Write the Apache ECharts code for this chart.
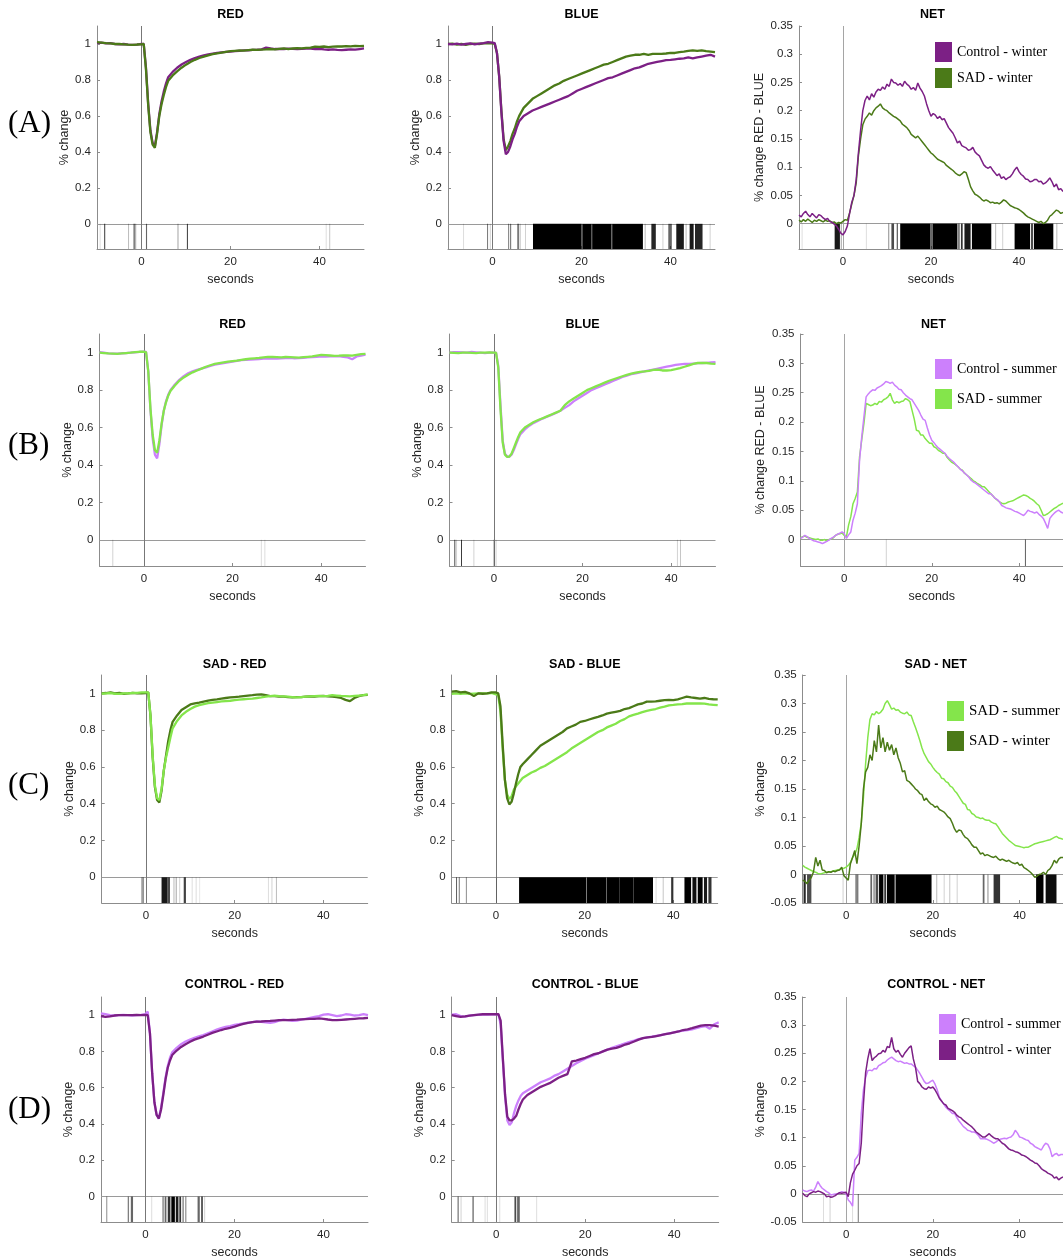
<!DOCTYPE html>
<html>
<head>
<meta charset="utf-8">
<title>Pupil response: RED / BLUE / NET</title>
<script src="https://cdn.jsdelivr.net/npm/echarts@6/dist/echarts.min.js"></script>
<style>
html, body { margin: 0; padding: 0; background: #fff; }
#chart { width: 1063px; height: 1260px; }
</style>
</head>
<body>
<div id="chart"></div>
<script>
// ---- time bases (seconds) ----
const tRB = [-10,-9,-8,-7,-6,-5,-4,-3,-2,-1,0,
  0.5,1,1.5,2,2.5,3,3.5,4,4.5,5,5.5,6,
  7,8,9,10,11,12,13,14,15,16,17,18,19,20,
  21,22,23,24,25,26,27,28,29,30,31,32,33,34,35,36,37,38,39,40,41,42,43,44,45,46,47,48,49,50];

const tNet = [-10,-9.5,-9,-8.5,-8,-7.5,-7,-6.5,-6,-5.5,
  -5,-4.5,-4,-3.5,-3,-2.5,-2,-1.5,-1,-0.5,
  0,0.5,1,1.5,2,2.5,3,3.5,4,4.5,
  5,5.5,6,6.5,7,7.5,8,8.5,9,9.5,
  10,10.5,11,11.5,12,12.5,13,13.5,14,14.5,
  15,15.5,16,16.5,17,17.5,18,18.5,19,19.5,
  20,20.5,21,21.5,22,22.5,23,23.5,24,24.5,
  25,25.5,26,26.5,27,27.5,28,28.5,29,29.5,
  30,30.5,31,31.5,32,32.5,33,33.5,34,34.5,
  35,35.5,36,36.5,37,37.5,38,38.5,39,39.5,
  40,40.5,41,41.5,42,42.5,43,43.5,44,44.5,
  45,45.5,46,46.5,47,47.5,48,48.5,49,49.5,
  50];

// ---- tick labels ----
const xTicks = [0, 20, 40];
const yTicksRB = [0, 0.2, 0.4, 0.6, 0.8, 1];
const yTicksNetAB = [0, 0.05, 0.1, 0.15, 0.2, 0.25, 0.3, 0.35];
const yTicksNetCD = [-0.05, 0, 0.05, 0.1, 0.15, 0.2, 0.25, 0.3, 0.35];

// ---- (A) winter: control vs SAD ----
const redA_ctlWin = [1.005,1.008,1.003,1.005,1.0,0.998,1.0,0.997,0.995,0.996,1.0,
  1.0,0.87,0.67,0.52,0.45,0.43,0.51,0.61,0.68,0.735,0.78,0.815,
  0.845,0.868,0.886,0.9,0.912,0.922,0.93,0.937,0.942,0.946,0.95,0.953,0.956,0.958,
  0.96,0.962,0.964,0.965,0.967,0.968,0.97,0.98,0.975,0.972,0.973,0.972,0.974,0.973,0.972,
  0.973,0.975,0.974,0.972,0.973,0.97,0.968,0.97,0.967,0.966,0.968,0.97,0.969,0.972,0.975];
const redA_sadWin = [1.01,1.008,1.005,1.003,1.0,1.0,0.998,0.996,0.995,0.997,0.998,
  1.0,0.86,0.66,0.51,0.44,0.423,0.5,0.6,0.665,0.715,0.76,0.795,
  0.825,0.848,0.868,0.885,0.9,0.912,0.922,0.93,0.937,0.943,0.948,0.952,0.956,0.96,
  0.962,0.964,0.963,0.966,0.968,0.967,0.969,0.97,0.972,0.97,0.973,0.975,0.972,0.975,0.977,
  0.976,0.978,0.98,0.985,0.984,0.986,0.983,0.985,0.987,0.986,0.988,0.987,0.99,0.988,0.99];
const blueA_ctlWin = [1.0,0.998,1.002,0.997,1.0,1.003,0.998,1.002,1.005,1.01,1.008,
  1.005,0.95,0.82,0.62,0.46,0.387,0.4,0.43,0.47,0.5,0.54,0.57,
  0.6,0.615,0.63,0.64,0.65,0.66,0.67,0.68,0.69,0.7,0.71,0.725,0.74,0.75,
  0.76,0.77,0.78,0.79,0.8,0.81,0.815,0.825,0.835,0.845,0.855,0.865,0.87,0.88,0.89,
  0.895,0.9,0.905,0.91,0.912,0.915,0.918,0.92,0.925,0.92,0.925,0.93,0.935,0.94,0.93];
const blueA_sadWin = [1.0,1.002,0.997,1.0,0.995,1.0,1.002,1.0,1.003,1.005,1.003,
  1.0,0.95,0.82,0.63,0.47,0.41,0.43,0.46,0.5,0.53,0.57,0.6,
  0.645,0.67,0.695,0.71,0.725,0.74,0.755,0.77,0.78,0.795,0.805,0.815,0.825,0.835,
  0.845,0.855,0.865,0.875,0.885,0.89,0.9,0.91,0.92,0.93,0.935,0.94,0.94,0.945,0.94,
  0.945,0.945,0.945,0.947,0.95,0.95,0.955,0.958,0.962,0.965,0.962,0.965,0.96,0.958,0.955];
const netA_ctlWin = [0.015,0.012,0.018,0.022,0.016,0.012,0.018,0.014,0.01,0.016,
  0.014,0.01,0.007,0.009,0.004,0.002,-0.001,-0.004,-0.01,-0.017,
  -0.02,-0.014,-0.004,0.018,0.038,0.05,0.078,0.125,0.165,0.2,
  0.218,0.226,0.219,0.23,0.224,0.233,0.238,0.236,0.242,0.238,
  0.247,0.243,0.256,0.25,0.249,0.245,0.248,0.243,0.252,0.247,
  0.244,0.238,0.241,0.236,0.249,0.24,0.234,0.226,0.212,0.2,
  0.19,0.195,0.192,0.186,0.19,0.184,0.186,0.178,0.17,0.165,
  0.16,0.152,0.143,0.146,0.138,0.136,0.134,0.13,0.131,0.135,
  0.127,0.123,0.12,0.112,0.104,0.1,0.098,0.101,0.095,0.09,
  0.085,0.088,0.08,0.083,0.078,0.081,0.083,0.088,0.095,0.1,
  0.092,0.087,0.084,0.079,0.078,0.074,0.075,0.078,0.078,0.074,
  0.075,0.07,0.072,0.076,0.081,0.074,0.065,0.07,0.06,0.062,
  0.057];
const netA_sadWin = [0.006,0.003,0.007,0.004,0.008,0.005,0.002,0.006,0.004,0.007,
  0.005,0.003,0.006,0.004,0.005,0.002,0.003,0.0,0.002,0.001,
  0.004,0.007,0.006,0.019,0.035,0.05,0.072,0.12,0.15,0.175,
  0.185,0.19,0.196,0.192,0.2,0.205,0.208,0.212,0.205,0.202,
  0.2,0.196,0.193,0.19,0.188,0.185,0.182,0.176,0.173,0.17,
  0.165,0.158,0.155,0.152,0.155,0.15,0.145,0.14,0.135,0.13,
  0.125,0.122,0.118,0.114,0.112,0.11,0.108,0.103,0.1,0.097,
  0.094,0.09,0.087,0.085,0.088,0.092,0.09,0.078,0.065,0.058,
  0.052,0.05,0.047,0.043,0.04,0.042,0.04,0.037,0.038,0.036,
  0.037,0.035,0.038,0.042,0.04,0.036,0.032,0.03,0.028,0.027,
  0.025,0.022,0.019,0.015,0.012,0.01,0.008,0.006,0.004,0.002,
  0.004,0.0,0.002,0.006,0.013,0.016,0.02,0.024,0.022,0.018,
  0.02];

// ---- (B) summer: control vs SAD ----
const redB_ctlSum = [1.003,1.0,0.997,0.995,0.995,0.997,0.998,1.0,1.002,1.004,1.006,
  1.004,0.9,0.69,0.54,0.455,0.435,0.51,0.61,0.69,0.74,0.775,0.8,
  0.83,0.855,0.875,0.89,0.9,0.908,0.915,0.922,0.93,0.936,0.94,0.944,0.948,0.952,
  0.956,0.96,0.962,0.963,0.965,0.966,0.968,0.97,0.969,0.968,0.97,0.971,0.972,0.97,0.971,
  0.973,0.975,0.976,0.978,0.98,0.979,0.981,0.98,0.982,0.978,0.975,0.965,0.98,0.985,0.99];
const redB_sadSum = [1.0,0.998,0.996,0.995,0.994,0.996,0.998,1.0,1.003,1.005,1.005,
  1.003,0.9,0.7,0.56,0.48,0.465,0.53,0.62,0.69,0.735,0.77,0.795,
  0.825,0.85,0.868,0.882,0.895,0.905,0.915,0.925,0.933,0.94,0.944,0.948,0.952,0.955,
  0.958,0.962,0.965,0.968,0.97,0.972,0.975,0.978,0.977,0.976,0.975,0.977,0.976,0.975,0.974,
  0.976,0.978,0.98,0.985,0.988,0.987,0.985,0.983,0.984,0.986,0.985,0.984,0.988,0.992,0.994];
const blueB_ctlSum = [1.0,1.003,1.003,1.002,1.0,1.004,1.002,1.0,0.998,1.0,1.0,
  1.0,0.93,0.72,0.53,0.46,0.445,0.444,0.455,0.48,0.51,0.54,0.565,
  0.59,0.61,0.625,0.637,0.648,0.658,0.668,0.678,0.69,0.705,0.72,0.74,0.755,0.77,
  0.785,0.8,0.81,0.82,0.83,0.84,0.85,0.86,0.87,0.878,0.885,0.89,0.895,0.9,0.905,
  0.91,0.915,0.92,0.925,0.93,0.935,0.938,0.94,0.94,0.942,0.944,0.945,0.946,0.948,0.95];
const blueB_sadSum = [1.0,0.999,0.998,1.0,1.0,0.999,0.998,1.0,1.0,1.001,1.0,
  1.0,0.92,0.7,0.52,0.455,0.443,0.445,0.46,0.49,0.52,0.55,0.575,
  0.6,0.615,0.63,0.64,0.65,0.66,0.67,0.68,0.69,0.72,0.74,0.755,0.77,0.785,
  0.8,0.81,0.82,0.83,0.84,0.85,0.858,0.866,0.874,0.882,0.888,0.893,0.898,0.9,0.903,
  0.908,0.91,0.905,0.905,0.907,0.912,0.918,0.925,0.932,0.94,0.945,0.945,0.945,0.942,0.94];
const netB_ctlSum = [0.002,0.004,0.007,0.005,0.002,0.0,-0.002,-0.003,-0.004,-0.005,
  -0.007,-0.005,-0.003,-0.001,0.002,0.004,0.007,0.009,0.011,0.013,
  0.01,0.002,0.008,0.013,0.033,0.045,0.061,0.135,0.175,0.209,
  0.243,0.248,0.252,0.255,0.254,0.258,0.26,0.262,0.265,0.269,
  0.268,0.266,0.268,0.263,0.26,0.256,0.255,0.25,0.246,0.243,
  0.24,0.238,0.232,0.226,0.22,0.212,0.205,0.203,0.19,0.178,
  0.169,0.165,0.16,0.156,0.153,0.15,0.147,0.142,0.138,0.135,
  0.132,0.128,0.124,0.12,0.117,0.113,0.11,0.106,0.101,0.098,
  0.096,0.093,0.09,0.087,0.084,0.081,0.078,0.078,0.074,0.07,
  0.068,0.064,0.058,0.056,0.054,0.053,0.052,0.05,0.048,0.047,
  0.045,0.043,0.041,0.045,0.05,0.048,0.047,0.045,0.047,0.043,
  0.04,0.036,0.028,0.019,0.036,0.041,0.045,0.048,0.05,0.047,
  0.045];
const netB_sadSum = [0.003,0.005,0.006,0.004,0.003,0.002,0.001,0.0,0.001,-0.001,
  -0.001,0.0,-0.002,0.0,0.001,0.003,0.007,0.009,0.01,0.011,
  0.007,0.005,0.025,0.039,0.061,0.07,0.081,0.141,0.17,0.198,
  0.232,0.23,0.228,0.229,0.232,0.23,0.235,0.234,0.238,0.24,
  0.243,0.249,0.238,0.232,0.235,0.233,0.235,0.236,0.24,0.238,
  0.235,0.22,0.205,0.186,0.185,0.178,0.178,0.172,0.168,0.164,
  0.164,0.158,0.156,0.152,0.15,0.147,0.147,0.14,0.136,0.132,
  0.13,0.127,0.124,0.12,0.118,0.113,0.11,0.107,0.104,0.1,
  0.098,0.095,0.093,0.09,0.09,0.086,0.082,0.078,0.074,0.07,
  0.067,0.064,0.062,0.061,0.062,0.064,0.065,0.066,0.068,0.07,
  0.072,0.074,0.076,0.075,0.073,0.07,0.068,0.065,0.061,0.058,
  0.05,0.041,0.042,0.044,0.047,0.05,0.053,0.055,0.058,0.06,
  0.062];

// ---- (C) SAD: summer vs winter ----
const redC_sadWin = [1.0,1.002,1.005,1.0,1.003,0.998,1.0,1.003,1.0,1.0,1.002,
  1.005,0.88,0.65,0.49,0.42,0.407,0.47,0.58,0.66,0.74,0.8,0.845,
  0.88,0.91,0.925,0.94,0.946,0.95,0.955,0.96,0.965,0.968,0.972,0.975,0.978,0.98,
  0.982,0.985,0.988,0.99,0.993,0.995,0.99,0.985,0.985,0.983,0.982,0.98,0.978,0.98,0.98,
  0.982,0.984,0.983,0.985,0.986,0.984,0.982,0.98,0.975,0.965,0.958,0.975,0.985,0.99,0.992];
const redC_sadSum = [0.998,1.0,1.002,0.998,0.997,1.0,1.0,1.002,1.003,1.005,1.005,
  1.005,0.88,0.66,0.5,0.43,0.42,0.48,0.58,0.65,0.705,0.76,0.81,
  0.85,0.88,0.9,0.915,0.928,0.936,0.942,0.947,0.95,0.953,0.956,0.958,0.96,0.963,
  0.966,0.968,0.97,0.972,0.975,0.978,0.982,0.985,0.988,0.985,0.984,0.982,0.98,0.978,0.98,
  0.982,0.984,0.985,0.986,0.985,0.987,0.99,0.988,0.986,0.985,0.984,0.986,0.988,0.99,0.995];
const blueC_sadWin = [1.01,1.012,1.005,1.008,1.0,0.985,1.0,0.998,1.0,1.005,1.005,
  1.0,0.93,0.72,0.53,0.43,0.396,0.41,0.455,0.51,0.56,0.6,0.615,
  0.64,0.665,0.69,0.715,0.73,0.745,0.76,0.775,0.79,0.81,0.82,0.83,0.845,0.85,
  0.858,0.865,0.872,0.88,0.89,0.895,0.9,0.905,0.915,0.92,0.93,0.94,0.945,0.955,0.955,
  0.957,0.96,0.963,0.965,0.963,0.968,0.975,0.982,0.978,0.975,0.972,0.975,0.97,0.968,0.967];
const blueC_sadSum = [0.998,1.0,0.998,1.0,0.997,0.999,1.0,1.0,1.0,1.002,0.995,
  0.99,0.9,0.7,0.53,0.45,0.425,0.44,0.475,0.495,0.51,0.525,0.54,
  0.555,0.57,0.58,0.595,0.605,0.62,0.635,0.65,0.665,0.68,0.7,0.715,0.73,0.745,
  0.76,0.775,0.79,0.8,0.815,0.825,0.835,0.85,0.86,0.875,0.883,0.89,0.898,0.905,0.91,
  0.915,0.922,0.928,0.935,0.937,0.94,0.942,0.945,0.946,0.945,0.946,0.944,0.94,0.938,0.936];
const netC_sadWin = [-0.01,-0.012,-0.016,-0.01,-0.005,0.005,0.03,0.015,0.025,0.008,
  0.007,0.003,0.005,0.004,0.006,0.005,0.007,0.008,0.013,-0.002,
  -0.006,-0.01,0.019,0.03,0.042,0.019,0.05,0.089,0.15,0.18,
  0.188,0.21,0.2,0.235,0.215,0.262,0.222,0.24,0.215,0.232,
  0.218,0.228,0.21,0.222,0.205,0.195,0.18,0.182,0.165,0.163,
  0.159,0.155,0.15,0.147,0.142,0.14,0.13,0.134,0.128,0.124,
  0.122,0.118,0.12,0.114,0.112,0.11,0.106,0.101,0.098,0.09,
  0.08,0.074,0.078,0.077,0.07,0.065,0.063,0.058,0.052,0.048,
  0.048,0.042,0.036,0.038,0.033,0.035,0.033,0.031,0.03,0.032,
  0.028,0.025,0.027,0.025,0.023,0.025,0.022,0.02,0.019,0.021,
  0.016,0.018,0.012,0.01,0.007,0.004,0.0,-0.005,-0.003,0.0,
  0.001,0.004,0.0,0.007,0.01,0.016,0.025,0.02,0.027,0.03,
  0.03];
const netC_sadSum = [0.016,0.013,0.011,0.009,0.007,0.005,0.004,0.002,0.001,0.002,
  0.003,0.004,0.005,0.005,0.006,0.007,0.008,0.009,0.01,0.011,
  0.013,0.016,0.021,0.03,0.035,0.045,0.065,0.09,0.135,0.194,
  0.24,0.272,0.282,0.28,0.286,0.282,0.285,0.29,0.3,0.305,
  0.298,0.29,0.292,0.288,0.289,0.285,0.283,0.282,0.285,0.28,
  0.279,0.268,0.258,0.247,0.235,0.222,0.212,0.205,0.198,0.194,
  0.188,0.183,0.179,0.176,0.169,0.168,0.163,0.161,0.155,0.153,
  0.147,0.143,0.137,0.131,0.125,0.123,0.114,0.113,0.107,0.105,
  0.101,0.1,0.098,0.099,0.096,0.095,0.095,0.092,0.09,0.089,
  0.084,0.078,0.072,0.068,0.064,0.06,0.057,0.054,0.051,0.05,
  0.049,0.048,0.047,0.048,0.048,0.05,0.052,0.054,0.055,0.056,
  0.057,0.058,0.059,0.06,0.061,0.063,0.065,0.067,0.064,0.063,
  0.062];

// ---- (D) control: summer vs winter ----
const redD_ctlSum = [1.01,1.005,1.0,0.998,1.0,1.002,1.0,0.998,1.0,1.002,1.005,
  1.02,0.9,0.68,0.52,0.45,0.43,0.49,0.57,0.655,0.72,0.765,0.795,
  0.82,0.84,0.855,0.865,0.875,0.883,0.89,0.9,0.91,0.92,0.928,0.935,0.94,0.946,
  0.95,0.955,0.958,0.962,0.965,0.963,0.96,0.958,0.962,0.97,0.975,0.972,0.968,0.97,0.975,
  0.98,0.985,0.99,0.995,1.003,1.005,1.0,0.995,0.998,1.005,1.003,0.998,1.0,1.005,1.0];
const redD_ctlWin = [0.995,0.99,0.993,0.998,1.0,1.0,1.0,1.0,1.002,1.0,1.002,
  1.0,0.9,0.68,0.52,0.45,0.43,0.48,0.56,0.645,0.71,0.75,0.78,
  0.805,0.825,0.84,0.853,0.865,0.873,0.882,0.892,0.902,0.91,0.918,0.925,0.93,0.937,
  0.945,0.952,0.958,0.962,0.964,0.965,0.967,0.968,0.97,0.972,0.973,0.972,0.974,0.975,0.977,
  0.978,0.979,0.98,0.982,0.98,0.976,0.973,0.972,0.974,0.976,0.978,0.98,0.982,0.983,0.985];
const blueD_ctlSum = [1.003,1.005,0.995,0.992,0.997,1.0,1.002,1.003,1.003,1.005,1.005,
  1.005,0.95,0.75,0.55,0.42,0.395,0.41,0.46,0.5,0.53,0.555,0.57,
  0.585,0.6,0.615,0.63,0.64,0.65,0.665,0.675,0.69,0.705,0.72,0.735,0.748,0.76,
  0.77,0.78,0.79,0.8,0.81,0.82,0.828,0.836,0.845,0.853,0.86,0.868,0.873,0.878,0.882,
  0.886,0.89,0.895,0.9,0.905,0.91,0.915,0.918,0.922,0.928,0.935,0.94,0.925,0.95,0.96];
const blueD_ctlWin = [1.0,0.995,0.99,0.993,0.997,1.0,1.003,1.005,1.005,1.005,1.005,
  1.005,0.97,0.76,0.56,0.44,0.42,0.42,0.43,0.445,0.48,0.51,0.535,
  0.56,0.575,0.59,0.605,0.615,0.625,0.64,0.655,0.665,0.675,0.745,0.75,0.758,0.765,
  0.775,0.785,0.79,0.8,0.81,0.815,0.82,0.828,0.838,0.845,0.855,0.865,0.873,0.877,0.88,
  0.885,0.89,0.895,0.9,0.905,0.91,0.918,0.922,0.928,0.935,0.942,0.945,0.945,0.942,0.937];
const netD_ctlSum = [0.007,0.005,0.004,0.006,0.007,0.005,0.012,0.022,0.015,0.01,
  0.007,0.004,0.002,-0.002,-0.001,0.0,0.0,0.002,0.004,0.003,
  0.0,-0.011,-0.015,-0.022,0.06,0.065,0.072,0.143,0.185,0.207,
  0.219,0.22,0.219,0.223,0.222,0.228,0.23,0.233,0.234,0.238,
  0.241,0.243,0.24,0.237,0.235,0.236,0.234,0.232,0.233,0.231,
  0.231,0.228,0.225,0.22,0.214,0.207,0.2,0.196,0.197,0.2,
  0.202,0.195,0.185,0.172,0.165,0.16,0.154,0.15,0.147,0.143,
  0.143,0.136,0.13,0.125,0.12,0.117,0.113,0.112,0.11,0.11,
  0.108,0.104,0.098,0.098,0.098,0.097,0.095,0.093,0.09,0.092,
  0.095,0.097,0.098,0.099,0.098,0.1,0.101,0.105,0.113,0.108,
  0.101,0.1,0.098,0.096,0.095,0.09,0.088,0.084,0.082,0.08,
  0.078,0.085,0.09,0.088,0.08,0.066,0.07,0.072,0.068,0.07,
  0.07];
const netD_ctlWin = [0.001,-0.003,-0.005,0.0,0.002,0.004,0.003,0.005,0.004,0.002,
  0.0,-0.005,-0.004,-0.006,-0.005,-0.003,0.0,0.002,0.001,0.002,
  0.003,-0.005,0.02,0.035,0.042,0.05,0.054,0.09,0.16,0.215,
  0.24,0.258,0.237,0.242,0.245,0.249,0.25,0.255,0.252,0.262,
  0.26,0.278,0.258,0.252,0.255,0.248,0.243,0.25,0.255,0.26,
  0.263,0.24,0.225,0.2,0.196,0.19,0.187,0.186,0.19,0.188,
  0.19,0.185,0.178,0.17,0.165,0.16,0.158,0.152,0.15,0.148,
  0.145,0.14,0.137,0.135,0.131,0.128,0.125,0.122,0.119,0.115,
  0.11,0.107,0.104,0.101,0.101,0.104,0.107,0.103,0.1,0.098,
  0.098,0.094,0.09,0.088,0.084,0.08,0.078,0.077,0.075,0.074,
  0.072,0.069,0.068,0.066,0.063,0.06,0.058,0.055,0.054,0.05,
  0.045,0.042,0.04,0.037,0.035,0.033,0.028,0.03,0.025,0.028,
  0.03];

// ---- significance raster: [start s, end s, strength 0..1] ----
const sigRedA = [[-9.4,-9.25,0.15],[-8.4,-8.15,0.7],[-3.0,-2.8,0.3],[-1.8,-1.5,0.6],[-1.4,-1.25,0.4],[1.0,1.25,0.6],[8.1,8.3,0.4],[10.2,10.45,0.7],[41.4,41.6,0.15],[42.2,42.4,0.25]];
const sigBlueA = [[-6.6,-6.4,0.15],[-1.2,-1.0,0.6],[-0.6,-0.4,0.2],[3.5,3.7,0.5],[3.9,4.2,0.5],[5.6,5.9,0.7],[6.1,6.3,0.3],[7.3,7.5,0.2],[9.1,20.0,1],[20.0,20.2,0.6],[20.2,22.2,1],[22.2,22.4,0.7],[22.4,26.7,1],[26.7,26.9,0.6],[26.9,33.8,1],[34.2,34.4,0.3],[35.7,36.7,0.85],[38.2,38.4,0.2],[39.5,40.3,0.6],[41.3,43.0,0.9],[43.4,43.6,0.3],[44.3,45.2,0.9],[45.5,47.2,0.85],[48.8,49.0,0.2]];
const sigNetA = [[-9.4,-9.2,0.15],[-1.9,-0.7,0.9],[-0.5,-0.3,0.4],[5.2,5.4,0.15],[10.3,10.5,0.5],[11.0,11.6,0.7],[12.2,12.5,0.6],[13.0,19.8,1],[19.8,20.4,0.6],[20.4,26.0,1],[26.2,26.5,0.7],[26.8,27.2,0.8],[27.6,29.0,0.9],[29.3,33.7,1],[34.6,34.8,0.3],[36.2,36.4,0.2],[39.0,42.5,1],[42.7,43.2,0.7],[43.4,47.8,1],[48.5,48.7,0.3]];
const sigRedB = [[-7.1,-6.9,0.2],[26.4,26.6,0.15],[27.2,27.4,0.15]];
const sigBlueB = [[-8.9,-8.7,0.8],[-8.5,-8.4,0.2],[-7.4,-7.2,0.85],[-4.6,-4.4,0.2],[-0.1,0.1,0.35],[0.4,0.6,0.2],[41.3,41.5,0.2],[42.0,42.2,0.25]];
const sigNetB = [[9.5,9.7,0.2],[41.3,41.5,0.7]];
const sigRedC = [[-1.0,-0.8,0.7],[-0.7,-0.6,0.5],[3.5,4.8,0.9],[4.8,5.4,0.7],[6.2,6.4,0.3],[6.7,6.9,0.4],[7.5,7.7,0.2],[8.5,9.0,0.75],[10.3,10.5,0.15],[11.2,11.4,0.15],[12.0,12.2,0.1],[27.5,27.7,0.15],[28.3,28.5,0.2],[29.3,29.5,0.3]];
const sigBlueC = [[-9.0,-8.8,0.7],[-8.4,-8.2,0.6],[-6.8,-6.6,0.5],[0,0.2,0.2],[5.2,20.3,1],[20.3,20.5,0.5],[20.5,24.8,1],[24.8,25.0,0.6],[25.0,27.8,1],[27.8,31.0,1],[31.0,35.4,1],[36.0,36.2,0.15],[37.6,37.8,0.25],[39.5,40.0,0.8],[42.5,44.0,1],[44.3,45.2,0.95],[45.5,46.6,1],[46.9,47.6,0.9],[47.9,48.6,0.8]];
const sigNetC = [[-9.8,-9.3,0.85],[-9.0,-8.0,0.7],[-0.8,-0.6,0.2],[2.2,2.4,0.9],[2.6,2.8,0.8],[5.6,6.0,0.6],[6.3,6.6,0.5],[6.8,7.4,0.7],[7.6,8.6,1],[8.8,9.2,0.8],[9.4,11.2,1],[11.4,19.7,1],[20.8,21.0,0.3],[22.5,22.7,0.2],[23.8,24.0,0.25],[25.5,25.7,0.2],[31.5,31.9,0.6],[32.6,32.8,0.5],[34.0,35.5,0.8],[43.8,45.5,1],[46.0,48.5,0.95]];
const sigRedD = [[-8.8,-8.6,0.5],[-4.0,-3.7,0.5],[-3.3,-2.8,0.6],[1.3,1.5,0.15],[3.8,4.1,0.5],[4.3,4.7,0.6],[5.0,5.6,0.8],[5.8,6.6,1],[6.8,7.4,0.9],[7.6,8.0,0.8],[8.3,8.6,0.5],[8.9,9.2,0.4],[11.7,12.2,0.6],[12.5,12.9,0.7],[13.2,13.4,0.2]];
const sigBlueD = [[-8.7,-8.4,0.5],[-8.0,-7.8,0.2],[-5.3,-5.1,0.85],[-2.6,-2.4,0.15],[-2.1,-1.9,0.15],[0.7,0.9,0.15],[4.1,4.5,0.7],[4.7,5.3,0.6],[9.0,9.2,0.15]];
const sigNetD = [[-5.3,-5.1,0.15],[-3.8,-3.6,0.2],[1.4,1.6,0.15],[2.7,2.9,0.6]];

// ---- look ----
const SANS = '"Liberation Sans", Arial, Helvetica, sans-serif';
const SERIF = '"Liberation Serif", "Times New Roman", serif';
const TXT = '#262626';
const AXC = '#8c8c8c';
const colors = {
  'Control - winter': '#7c2085',
  'SAD - winter': '#4b7a18',
  'Control - summer': '#cc80fc',
  'SAD - summer': '#84e54b'
};

const rows = [
  {top: 26,  h: 223, w: 267, lefts: [97, 448, 799],        label: '(A)', labelY: 124,  titleY: 15,
   legend: {left: 935, top: 42, gap: 6, size: 14, names: ['Control - winter', 'SAD - winter']}},
  {top: 334, h: 232, w: 266, lefts: [99.5, 449.5, 800.5],  label: '(B)', labelY: 446,  titleY: 325,
   legend: {left: 935, top: 359, gap: 10, size: 14, names: ['Control - summer', 'SAD - summer']}},
  {top: 675, h: 228, w: 266, lefts: [101.7, 451.7, 802.7], label: '(C)', labelY: 786,  titleY: 665,
   legend: {left: 947, top: 701, gap: 10, size: 15, names: ['SAD - summer', 'SAD - winter']}},
  {top: 997, h: 226, w: 267, lefts: [101, 451.7, 802.7],   label: '(D)', labelY: 1110, titleY: 985,
   legend: {left: 939, top: 1014, gap: 6, size: 14, names: ['Control - summer', 'Control - winter']}}
];

const kinds = {
  rb:    {min: -0.14,  max: 1.1,  ticks: yTicksRB,    name: '% change',           gap: 25, lw: 2.3, t: tRB,  zc: '#777'},
  netAB: {min: -0.045, max: 0.35, ticks: yTicksNetAB, name: '% change RED - BLUE', gap: 33, lw: 1.5, t: tNet, zc: '#a5a5a5'},
  netCD: {min: -0.05,  max: 0.35, ticks: yTicksNetCD, name: '% change',           gap: 36, lw: 1.5, t: tNet, zc: '#a5a5a5'}
};

const panels = [
  {row: 0, col: 0, title: 'RED',  kind: 'rb',    sig: sigRedA,  lines: [['Control - winter', redA_ctlWin], ['SAD - winter', redA_sadWin]]},
  {row: 0, col: 1, title: 'BLUE', kind: 'rb',    sig: sigBlueA, lines: [['SAD - winter', blueA_sadWin], ['Control - winter', blueA_ctlWin]]},
  {row: 0, col: 2, title: 'NET',  kind: 'netAB', sig: sigNetA,  lines: [['SAD - winter', netA_sadWin], ['Control - winter', netA_ctlWin]]},
  {row: 1, col: 0, title: 'RED',  kind: 'rb',    sig: sigRedB,  lines: [['Control - summer', redB_ctlSum], ['SAD - summer', redB_sadSum]]},
  {row: 1, col: 1, title: 'BLUE', kind: 'rb',    sig: sigBlueB, lines: [['Control - summer', blueB_ctlSum], ['SAD - summer', blueB_sadSum]]},
  {row: 1, col: 2, title: 'NET',  kind: 'netAB', sig: sigNetB,  lines: [['SAD - summer', netB_sadSum], ['Control - summer', netB_ctlSum]]},
  {row: 2, col: 0, title: 'SAD - RED',  kind: 'rb',    sig: sigRedC,  lines: [['SAD - winter', redC_sadWin], ['SAD - summer', redC_sadSum]]},
  {row: 2, col: 1, title: 'SAD - BLUE', kind: 'rb',    sig: sigBlueC, lines: [['SAD - summer', blueC_sadSum], ['SAD - winter', blueC_sadWin]]},
  {row: 2, col: 2, title: 'SAD - NET',  kind: 'netCD', sig: sigNetC,  lines: [['SAD - summer', netC_sadSum], ['SAD - winter', netC_sadWin]]},
  {row: 3, col: 0, title: 'CONTROL - RED',  kind: 'rb',    sig: sigRedD,  lines: [['Control - summer', redD_ctlSum], ['Control - winter', redD_ctlWin]]},
  {row: 3, col: 1, title: 'CONTROL - BLUE', kind: 'rb',    sig: sigBlueD, lines: [['Control - summer', blueD_ctlSum], ['Control - winter', blueD_ctlWin]]},
  {row: 3, col: 2, title: 'CONTROL - NET',  kind: 'netCD', sig: sigNetD,  lines: [['Control - summer', netD_ctlSum], ['Control - winter', netD_ctlWin]]}
];

const fmt = v => String(Math.round(v * 100) / 100);
const pts = (t, v) => t.map((x, i) => [x, v[i]]);

const grid = [], xAxis = [], yAxis = [], series = [], graphic = [], legend = [];

panels.forEach((p, i) => {
  const r = rows[p.row], k = kinds[p.kind];
  const left = r.lefts[p.col];
  grid.push({left: left, top: r.top, width: r.w, height: r.h});

  xAxis.push({
    gridIndex: i, type: 'value', min: -10, max: 50,
    axisLine: {show: true, onZero: false, lineStyle: {color: AXC, width: 1}},
    axisTick: {show: true, inside: true, length: 3, customValues: xTicks, lineStyle: {color: AXC}},
    axisLabel: {customValues: xTicks, color: TXT, fontSize: 11.5, fontFamily: SANS, margin: 7},
    splitLine: {show: false},
    name: 'seconds', nameLocation: 'middle', nameGap: 24,
    nameTextStyle: {color: TXT, fontSize: 12.5, fontFamily: SANS}
  });

  yAxis.push({
    gridIndex: i, type: 'value', min: k.min, max: k.max,
    axisLine: {show: true, onZero: false, lineStyle: {color: AXC, width: 1}},
    axisTick: {show: true, inside: true, length: 3, customValues: k.ticks, lineStyle: {color: AXC}},
    axisLabel: {customValues: k.ticks, formatter: fmt, color: TXT, fontSize: 11.5, fontFamily: SANS, margin: 6},
    splitLine: {show: false},
    name: k.name, nameLocation: 'middle', nameGap: k.gap,
    nameTextStyle: {color: TXT, fontSize: 12.5, fontFamily: SANS}
  });

  // significance raster under the zero line, plus the zero / onset reference lines
  const yMin = k.min;
  series.push({
    type: 'custom', xAxisIndex: i, yAxisIndex: i, silent: true, animation: false, z: 1,
    clip: true,
    encode: {x: [0, 1], y: 2},
    data: p.sig,
    renderItem: function (params, api) {
      const a = api.coord([api.value(0), 0]);
      const b = api.coord([api.value(1), yMin]);
      return {
        type: 'rect',
        shape: {x: a[0], y: a[1], width: Math.max(b[0] - a[0], 0.9), height: b[1] - a[1]},
        style: {fill: '#000', opacity: api.value(2)}
      };
    },
    markLine: {
      silent: true, animation: false, symbol: ['none', 'none'], z: 1,
      label: {show: false},
      data: [
        {yAxis: 0, lineStyle: {color: '#9a9a9a', width: 1, type: 'solid'}},
        {xAxis: 0, lineStyle: {color: k.zc, width: 1, type: 'solid'}}
      ]
    }
  });

  p.lines.forEach(([name, vals]) => {
    series.push({
      name: name, type: 'line', xAxisIndex: i, yAxisIndex: i,
      data: pts(k.t, vals),
      color: colors[name],
      showSymbol: false, symbol: 'none', animation: false, z: 3,
      lineStyle: {color: colors[name], width: k.lw},
      itemStyle: {color: colors[name]}
    });
  });

  graphic.push({
    type: 'text', x: left + r.w / 2, y: r.titleY,
    style: {text: p.title, font: 'bold 12.5px ' + SANS, fill: '#000', align: 'center', verticalAlign: 'middle'}
  });
});

rows.forEach(r => {
  graphic.push({
    type: 'text', x: 8, y: r.labelY,
    style: {text: r.label, font: '31px ' + SERIF, fill: '#000', align: 'left', verticalAlign: 'middle'}
  });
  const lg = r.legend;
  legend.push({
    data: lg.names, orient: 'vertical', left: lg.left, top: lg.top, padding: 0,
    itemWidth: 17, itemHeight: 20, itemGap: lg.gap, icon: 'rect', selectedMode: false,
    textStyle: {fontFamily: SERIF, fontSize: lg.size, color: '#000'}
  });
});

const chart = echarts.init(document.getElementById('chart'), null, {renderer: 'canvas'});
chart.setOption({
  backgroundColor: '#fff',
  animation: false,
  grid: grid,
  xAxis: xAxis,
  yAxis: yAxis,
  legend: legend,
  graphic: graphic,
  series: series
});
</script>
</body>
</html>
